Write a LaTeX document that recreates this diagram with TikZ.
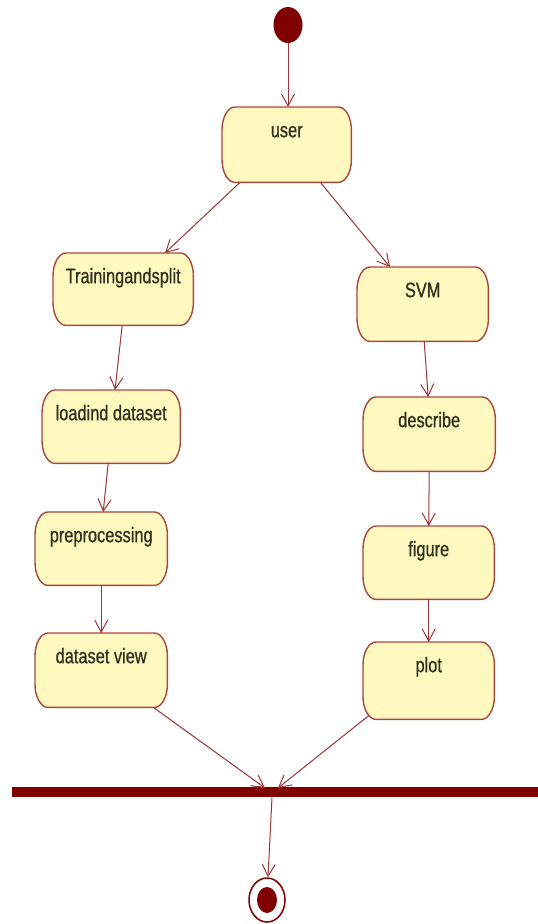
\documentclass[tikz,border=0pt]{standalone}
\usepackage{fontspec}
\newfontfamily\lblfont[FakeStretch=0.78,FakeBold=0.7]{Liberation Sans}
\usetikzlibrary{arrows.meta,calc,shapes.geometric,backgrounds}
\definecolor{boxfill}{HTML}{FFF9C0}
\definecolor{boxline}{HTML}{A8483E}
\definecolor{flow}{HTML}{9C3535}
\definecolor{solidred}{HTML}{800000}
\definecolor{txt}{HTML}{2F3020}
\begin{document}
\begin{tikzpicture}[x=1pt,y=-1pt,
  act/.style={inner sep=0pt, anchor=north west, text height=30pt,
    font=\lblfont\fontsize{21}{24}\selectfont, text=txt},
  actshape/.style={draw=boxline, fill=boxfill, line width=1.4pt},
  flowline/.style={draw=flow, line width=1pt, -{Straight Barb[length=12pt,width=13pt]}}]
\useasboundingbox (0,0) rectangle (538,924);

% initial state
\node[ellipse, fill=solidred, minimum width=29pt, minimum height=36pt, inner sep=0pt] (start) at (288,25) {};

% activities
\node[act, minimum width=129pt, text depth=45pt] (user)  at (222,107) {user};
\node[act, minimum width=140pt, text depth=42pt] (train) at (53,253)  {Trainingandsplit};
\node[act, minimum width=138pt, text depth=43pt] (load)  at (42,390)  {loadind dataset};
\node[act, minimum width=132pt, text depth=43pt] (pre)   at (35,512)  {preprocessing};
\node[act, minimum width=132pt, text depth=44pt] (view)  at (35,633)  {dataset view};
\node[act, minimum width=131pt, text depth=44pt] (svm)   at (357,267) {SVM};
\node[act, minimum width=132pt, text depth=44pt] (desc)  at (363,397) {describe};
\node[act, minimum width=131pt, text depth=43pt] (fig)   at (363,526) {figure};
\node[act, minimum width=131pt, text depth=47pt] (plot)  at (363,642) {plot};

% page and activity outlines (boxes with elliptical corners), behind the labels
\begin{scope}[on background layer]
\fill[white] (0,0) rectangle (538,924);
\foreach \act in {user,train,load,pre,view,svm,desc,fig,plot}{
  \path[actshape] let \p1=(\act.north west), \p2=(\act.south east) in
    (\x1+13pt,\y1) -- (\x2-13pt,\y1)
    .. controls (\x2-6pt,\y1) and (\x2,\y1-10pt) .. (\x2,\y1-23pt)
    -- (\x2,\y2+23pt)
    .. controls (\x2,\y2+10pt) and (\x2-6pt,\y2) .. (\x2-13pt,\y2)
    -- (\x1+13pt,\y2)
    .. controls (\x1+6pt,\y2) and (\x1,\y2+10pt) .. (\x1,\y2+23pt)
    -- (\x1,\y1-23pt)
    .. controls (\x1,\y1-10pt) and (\x1+6pt,\y1) .. (\x1+13pt,\y1) -- cycle;
}
\end{scope}

% join bar
\node[fill=solidred, minimum width=533pt, minimum height=10pt, inner sep=0pt, anchor=north west] (bar) at (12,787) {};

% final state
\node[ellipse, draw=solidred, line width=1.5pt, fill=white, minimum width=36pt, minimum height=44pt, inner sep=0pt] (endc) at (267,900) {};
\node[ellipse, fill=solidred, minimum width=20pt, minimum height=26pt, inner sep=0pt] (endin) at (endc) {};

% flows
\draw[flowline] (start.south) -- (start.south |- user.north);
\draw[flowline] ($(user.south west)+(18,0)$) -- ($(train.north west)+(112,0)$);
\draw[flowline] ($(user.south east)+(-31,0)$) -- ($(svm.north west)+(33,0)$);
\draw[flowline] ($(train.south)+(-1,0)$) -- ($(load.north west)+(73,0)$);
\draw[flowline] ($(load.south)+(-3,0)$) -- ($(pre.north)+(2,0)$);
\draw[flowline] (pre.south) -- (view.north);
\draw[flowline] ($(svm.south)+(1.5,0)$) -- ($(desc.north)+(-1,0)$);
\draw[flowline] (desc.south) -- (fig.north);
\draw[flowline] (fig.south) -- (plot.north);
\draw[flowline] ($(view.south east)+(-14,0)$) -- ($(bar.north west)+(253,1)$);
\draw[flowline] ($(plot.south west)+(6,-4)$) -- ($(bar.north west)+(266,1)$);
\draw[flowline] ($(bar.south west)+(260,0)$) -- ($(endc.north)+(1,0)$);
\end{tikzpicture}
\end{document}
